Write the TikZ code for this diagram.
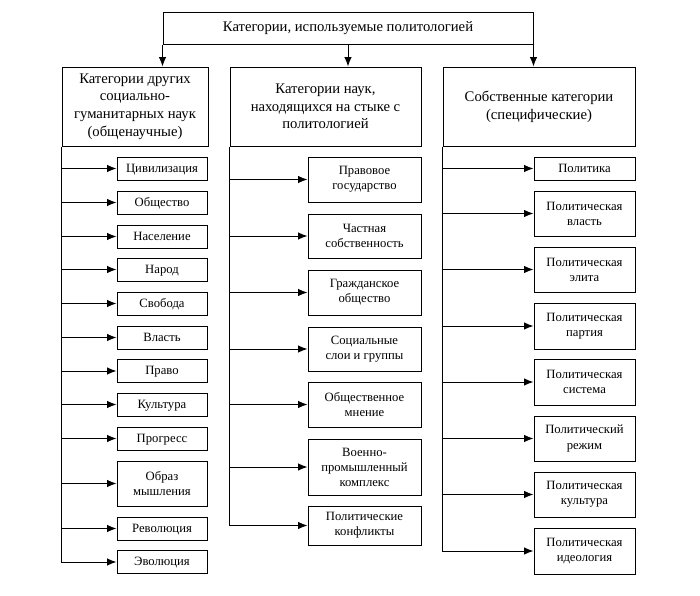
\documentclass[tikz,border=0pt]{standalone}
\usepackage{fontspec}
\setmainfont{Liberation Serif}
\usetikzlibrary{positioning,arrows.meta}

\begin{document}
\begin{tikzpicture}[x=0.75pt,y=-0.75pt,>={Latex[length=7pt,width=5.5pt]},line width=0.75pt,
    catbox/.style={rectangle,draw,align=center,inner sep=1pt,minimum height=59.25pt,
      font=\fontsize{11}{13.3}\selectfont},
    itembox/.style={rectangle,draw,align=center,inner sep=1pt,
      font=\fontsize{9.5}{11.3}\selectfont},
    oneline/.style={itembox,minimum height=17.25pt,text height=1.6ex,text depth=0.3ex},
    leftitem/.style={itembox,minimum width=67.5pt,minimum height=17.25pt},
    miditem/.style={itembox,minimum width=84.75pt,minimum height=33.75pt},
    rightitem/.style={itembox,minimum width=75.75pt,minimum height=33.75pt}]
  \useasboundingbox (0,0) rectangle (700,596);

  % top and the three groups
  \node[rectangle,draw,minimum width=277.5pt,minimum height=24pt,
    font=\fontsize{11}{13.3}\selectfont] (title) at (348,28)
    {Категории, используемые политологией};
  \node[catbox,minimum width=109.5pt] (other) at (135,106.5)
    {Категории других\\социально-\\гуманитарных наук\\(общенаучные)};
  \node[catbox,minimum width=143.25pt] (border) at (325.5,106.5)
    {Категории наук,\\находящихся на стыке с\\политологией};
  \node[catbox,minimum width=144pt] (own) at (539,106.5)
    {Собственные категории\\(специфические)};
  \draw [->] (title.south west) to (title.south west |- other.north);
  \draw [->] (title.south) to (title.south |- border.north);
  \draw [->] (title.south east) to (title.south east |- own.north);

  % general scientific categories
  \node[leftitem,oneline] (civ) at (162,168.5) {Цивилизация};
  \node[leftitem,oneline] (society) at (162,202.5) {Общество};
  \node[leftitem,oneline] (population) at (162,236.5) {Население};
  \node[leftitem,oneline] (people) at (162,269.5) {Народ};
  \node[leftitem,oneline] (freedom) at (162,303.5) {Свобода};
  \node[leftitem,oneline] (power) at (162,337.5) {Власть};
  \node[leftitem,oneline] (law) at (162,371) {Право};
  \node[leftitem,oneline] (culture) at (162,404.5) {Культура};
  \node[leftitem,oneline] (progress) at (162,438.5) {Прогресс};
  \node[leftitem,minimum height=33.75pt] (mind) at (162,483.5) {Образ\\мышления};
  \node[leftitem,oneline] (revolution) at (162,528.5) {Революция};
  \node[leftitem,oneline] (evolution) at (162,562) {Эволюция};
  \draw [->] (other.south west |- civ.west) to (civ.west);
  \draw [->] (other.south west |- society.west) to (society.west);
  \draw [->] (other.south west |- population.west) to (population.west);
  \draw [->] (other.south west |- people.west) to (people.west);
  \draw [->] (other.south west |- freedom.west) to (freedom.west);
  \draw [->] (other.south west |- power.west) to (power.west);
  \draw [->] (other.south west |- law.west) to (law.west);
  \draw [->] (other.south west |- culture.west) to (culture.west);
  \draw [->] (other.south west |- progress.west) to (progress.west);
  \draw [->] (other.south west |- mind.west) to (mind.west);
  \draw [->] (other.south west |- revolution.west) to (revolution.west);
  \draw [->] (other.south west) |- (evolution.west);

  % neighbouring sciences
  \node[miditem] (state) at (364.5,179.5) {Правовое\\государство};
  \node[miditem,minimum height=33pt] (property) at (364.5,236) {Частная\\собственность};
  \node[miditem] (civil) at (364.5,292.5) {Гражданское\\общество};
  \node[miditem,minimum height=33pt] (layers) at (364.5,349) {Социальные\\слои и группы};
  \node[miditem] (opinion) at (364.5,404.5) {Общественное\\мнение};
  \node[miditem,minimum height=42pt] (military) at (364.5,467)
    {Военно-\\промышленный\\комплекс};
  \node[miditem,minimum height=29.25pt] (conflicts) at (364.5,525.5)
    {Политические\\конфликты};
  \draw [->] (border.south west |- state.west) to (state.west);
  \draw [->] (border.south west |- property.west) to (property.west);
  \draw [->] (border.south west |- civil.west) to (civil.west);
  \draw [->] (border.south west |- layers.west) to (layers.west);
  \draw [->] (border.south west |- opinion.west) to (opinion.west);
  \draw [->] (border.south west |- military.west) to (military.west);
  \draw [->] (border.south west) |- (conflicts.west);

  % own categories
  \node[rightitem,oneline] (politics) at (584.5,168.5) {Политика};
  \node[rightitem] (ppower) at (584.5,213.5) {Политическая\\власть};
  \node[rightitem] (elite) at (584.5,269.5) {Политическая\\элита};
  \node[rightitem,minimum height=34.5pt] (party) at (584.5,326) {Политическая\\партия};
  \node[rightitem,minimum height=34.5pt] (system) at (584.5,382) {Политическая\\система};
  \node[rightitem] (regime) at (584.5,438.5) {Политический\\режим};
  \node[rightitem] (pculture) at (584.5,494.5) {Политическая\\культура};
  \node[rightitem,minimum height=34.5pt] (ideology) at (584.5,551) {Политическая\\идеология};
  \draw [->] (own.south west |- politics.west) to (politics.west);
  \draw [->] (own.south west |- ppower.west) to (ppower.west);
  \draw [->] (own.south west |- elite.west) to (elite.west);
  \draw [->] (own.south west |- party.west) to (party.west);
  \draw [->] (own.south west |- system.west) to (system.west);
  \draw [->] (own.south west |- regime.west) to (regime.west);
  \draw [->] (own.south west |- pculture.west) to (pculture.west);
  \draw [->] (own.south west) |- (ideology.west);
\end{tikzpicture}
\end{document}
